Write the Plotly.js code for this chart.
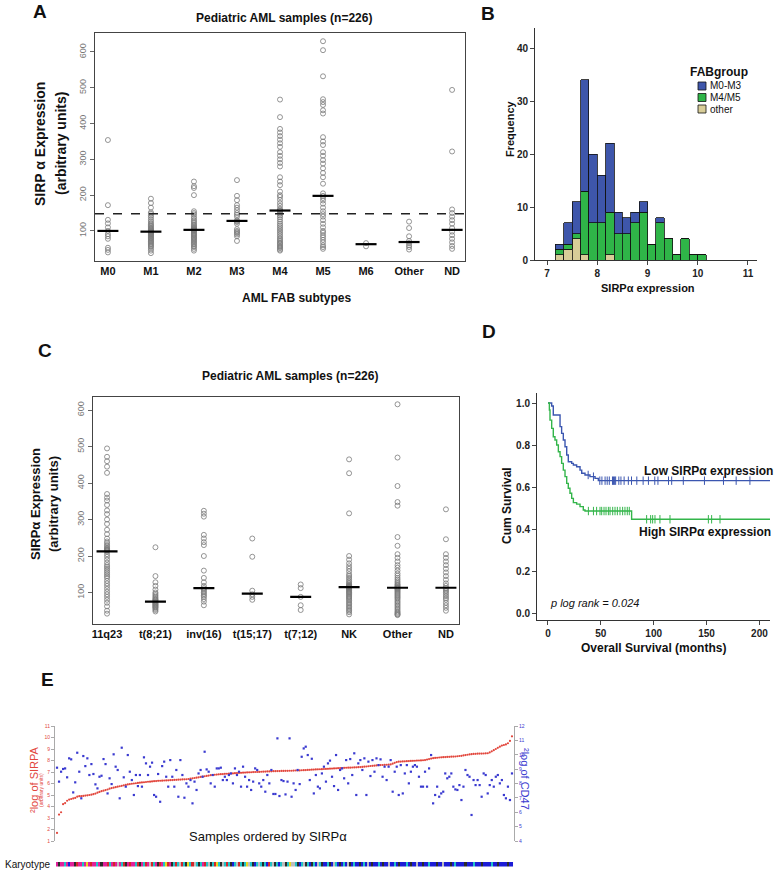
<!DOCTYPE html>
<html><head><meta charset="utf-8">
<script src="https://cdn.plot.ly/plotly-3.0.1.min.js"></script>
<style>body{margin:0;background:#fff}</style>
</head><body><div id="chart" style="width:776px;height:879px"></div>
<script>
// ---------- Panel A : SIRPα by FAB subtype ----------
const fabCategories = ['M0','M1','M2','M3','M4','M5','M6','Other','ND'];
const fabM0 = [354,172,131,121,110,100,91,85,78,53,47,40];
const fabM1 = [190,178,165,152,148,143,138,132,127,122,118,115,112,109,106,104,102,100,98,97,95,93,91,89,87,85,82,80,78,75,72,70,67,64,61,58,55,50,45,38];
const fabM2 = [238,225,220,200,155,150,146,140,135,130,126,122,118,115,112,110,108,106,104,103,102,100,98,95,92,90,88,85,82,80,77,74,71,68,65,62,58,55,50,45];
const fabM3 = [242,198,186,172,165,158,150,145,140,130,127,125,120,105,100,97,94,90,85,72];
const fabM4 = [467,418,385,375,365,355,345,335,320,310,300,290,280,250,238,228,210,200,195,187,178,170,162,158,156,152,148,143,138,132,126,120,115,110,105,100,95,90,85,80,76,72,68,65,62,58,55,52,48,45];
const fabM5 = [630,605,532,468,460,452,437,428,362,350,340,320,310,298,288,275,262,250,232,205,198,192,185,176,165,155,147,140,130,120,110,100,95,88,82,75,68,60,55,50];
const fabM6 = [66,57];
const fabOther = [126,108,85,72,66,60,55,48];
const fabND = [494,322,160,150,140,130,120,108,98,88,78,68,58,50];
const fabMedians = [100,98,103,128,157,198,63,69,103];
const fabThreshold = 148;

// ---------- Panel B : histogram of SIRPα expression ----------
const histBinCenters = [7.25,7.4167,7.5833,7.75,7.9167,8.0833,8.25,8.4167,8.5833,8.75,8.9167,9.0833,9.25,9.4167,9.5833,9.75,9.9167,10.0833];
const histOther = [1,2,4,1,0,0,1,0,0,0,0,0,0,0,0,0,0,0];
const histM4M5  = [1,1,1,12,7,7,8,5,5,7,9,3,7,4,1,4,1,1];
const histM0M3  = [1,4,6,21,13,9,13,4,3,2,2,0,1,0,0,0,0,0];
const histGroups = ['M0-M3','M4/M5','other'];
const histColors = ['#3e56ab','#2fb548','#d8cd98'];

// ---------- Panel C : SIRPα by karyotype ----------
const karCategories = ['11q23','t(8;21)','inv(16)','t(15;17)','t(7;12)','NK','Other','ND'];
const kar11q23 = [495,472,460,445,428,370,360,352,340,325,315,300,288,272,260,248,240,235,230,226,222,220,218,216,215,212,205,198,190,182,175,170,165,160,155,150,145,140,132,125,118,110,102,95,88,80,72,62,50,42];
const karT821 = [224,145,128,118,108,100,96,92,88,85,82,80,78,76,74,72,70,68,66,64,62,60,58,55,52,48];
const karInv16 = [324,316,308,258,248,238,230,200,160,140,128,118,112,108,104,100,96,92,88,82,75,65];
const karT1517 = [248,198,105,95,88,80];
const karT712 = [122,112,88,65,52];
const karNK = [465,427,317,200,190,180,172,165,158,150,145,140,135,130,126,122,120,118,117,116,115,115,114,112,110,108,105,102,100,97,94,91,88,85,82,78,74,70,66,62,58,54,50,46,40];
const karOther = [616,470,392,348,338,252,228,205,195,185,175,168,160,152,146,140,135,130,126,122,120,117,115,113,112,110,108,105,102,99,96,93,90,87,84,80,76,72,68,64,60,56,52,48,45,42,40,38];
const karND = [328,246,205,195,185,175,165,155,145,135,125,118,112,108,104,100,95,90,85,80,72,65,58,50];
const karMedians = [213,75,112,97,88,115,113,113];

// ---------- Panel D : Kaplan-Meier ----------
const lowTime = [0,3.5,5,11.4,12.9,14.5,16.1,17.7,19.2,22.4,24,27.1,30.3,31.9,35,39.7,44.5,47.6,210];
const lowSurv = [1.0,0.986,0.943,0.888,0.856,0.825,0.793,0.754,0.722,0.714,0.706,0.698,0.682,0.667,0.659,0.651,0.643,0.632,0.632];
const lowCensor = [38,43,49,51,54,56,58,61,62,63,64,67,69,72,76,79,84,90,95,101,104,114,117,128,148,166,178,191];
const highTime = [0,1.3,1.9,3.5,5.0,6.6,8.2,9.8,11.4,12.9,14.5,16.1,17.7,19.2,20.8,22.4,24.0,27.1,30.3,33.4,35.0,79.1,210];
const highSurv = [1.0,0.967,0.919,0.880,0.840,0.825,0.801,0.769,0.746,0.714,0.682,0.651,0.619,0.596,0.572,0.548,0.528,0.521,0.509,0.493,0.488,0.449,0.449];
const highCensor = [38.2,43,46,49.2,50.8,53,54.9,57.1,58.7,61.2,63.4,65.6,68.1,70.6,72.8,75,76.9,93.3,97.1,99,101.2,105.9,115.4,151.7,154.8,162.7];

// ---------- Panel E : SIRPA (sorted) and CD47 per sample ----------
const sirpaLog2 = [
1.7,3.3,3.5,4.2,4.3,4.5,4.6,4.65,4.7,4.75,
4.85,4.9,4.9,4.92,4.95,4.97,5.0,5.03,5.07,5.12,
5.2,5.27,5.33,5.38,5.43,5.48,5.55,5.6,5.64,5.68,
5.72,5.76,5.8,5.84,5.88,5.92,5.95,5.98,6.0,6.02,
6.05,6.07,6.09,6.11,6.13,6.15,6.16,6.18,6.2,6.21,
6.23,6.24,6.25,6.26,6.27,6.28,6.29,6.3,6.31,6.32,
6.33,6.34,6.35,6.36,6.37,6.39,6.42,6.45,6.48,6.51,
6.54,6.57,6.6,6.63,6.66,6.69,6.72,6.74,6.76,6.78,
6.8,6.81,6.82,6.84,6.85,6.86,6.87,6.88,6.9,6.91,
6.92,6.93,6.94,6.95,6.96,6.97,6.98,6.99,7.0,7.0,
7.01,7.02,7.03,7.04,7.05,7.05,7.06,7.07,7.07,7.08,
7.08,7.09,7.09,7.1,7.1,7.11,7.11,7.12,7.13,7.13,
7.14,7.15,7.16,7.17,7.18,7.19,7.2,7.21,7.22,7.23,
7.24,7.25,7.26,7.27,7.28,7.29,7.3,7.31,7.32,7.33,
7.34,7.35,7.36,7.37,7.38,7.38,7.39,7.4,7.41,7.42,
7.43,7.44,7.46,7.48,7.5,7.52,7.54,7.55,7.57,7.59,
7.6,7.61,7.62,7.63,7.64,7.66,7.72,7.8,7.86,7.9,
7.91,7.92,7.93,7.94,7.95,7.96,7.97,7.98,7.99,8.0,
8.01,8.02,8.04,8.08,8.12,8.17,8.2,8.22,8.24,8.26,
8.28,8.29,8.3,8.31,8.32,8.33,8.34,8.35,8.37,8.39,
8.41,8.44,8.47,8.5,8.53,8.55,8.57,8.58,8.59,8.6,
8.6,8.61,8.62,8.63,8.7,8.8,8.9,9.0,9.1,9.2,
9.3,9.35,9.4,9.5,9.7,10.1];
const cd47Log2 = [
9.10,8.13,8.82,9.01,9.05,8.43,9.75,9.68,7.38,8.08,
10.14,8.82,6.97,9.91,9.21,9.75,8.59,9.35,8.66,7.94,
7.66,8.47,8.54,9.70,9.35,7.31,8.36,7.96,10.03,9.17,
8.94,6.97,10.49,8.43,7.78,9.98,8.82,8.24,7.20,8.59,
7.82,8.59,7.78,9.82,9.40,8.59,9.17,9.45,7.20,7.08,
8.66,6.73,9.21,9.52,8.47,7.78,9.63,8.47,7.78,8.94,
7.08,9.63,8.59,7.01,8.01,7.78,8.24,6.62,8.13,7.55,
8.70,8.94,8.47,10.21,8.98,8.82,8.01,8.59,7.78,9.05,
9.05,9.10,8.24,8.47,8.24,8.59,8.70,8.01,9.05,8.59,
8.82,7.78,9.17,8.47,7.78,8.24,7.55,8.13,9.05,8.94,
8.01,7.78,8.24,7.43,8.59,8.01,8.94,7.27,7.27,11.14,
7.13,8.24,8.17,
7.24,8.13,11.14,7.08,8.01,7.55,8.94,7.96,9.86,10.44,
10.56,9.98,8.24,9.72,7.31,8.59,7.78,7.66,8.70,9.17,
8.13,9.40,9.59,8.47,7.82,9.98,7.55,8.94,9.05,8.36,
9.63,8.01,9.70,8.59,10.10,7.20,9.40,9.63,8.94,9.75,
7.20,9.52,8.52,9.63,8.82,9.75,9.28,9.68,8.47,9.17,
8.24,9.17,9.63,7.43,8.82,9.17,7.20,9.28,7.31,8.70,
9.28,8.01,8.82,9.17,9.28,9.17,8.47,7.78,7.78,8.82,
7.78,9.05,9.98,6.62,7.20,7.78,7.08,7.31,7.43,8.70,
8.36,8.47,8.70,7.78,7.59,7.55,7.89,6.85,7.78,8.94,
8.59,8.47,5.81,8.24,7.89,8.24,7.89,7.08,8.70,8.59,
7.31,7.89,8.24,7.78,8.47,8.59,8.01,8.24,7.20,6.97,
7.78,6.85,8.70];
// karyotype code per ordered sample (index into karCategories)
const karyotypeCodes = [
1,6,1,1,5,1,0,1,1,6,2,1,1,5,1,3,1,2,1,1,
5,1,6,1,1,2,5,1,2,1,7,1,5,2,6,1,2,1,1,5,
2,6,1,5,2,1,7,2,5,1,6,2,1,5,3,2,1,6,5,2,
5,7,2,5,6,3,5,2,7,5,6,5,1,2,5,7,6,5,2,3,
5,6,7,5,2,5,6,0,5,7,2,5,6,5,3,7,5,6,0,5,
7,5,6,5,0,2,5,7,6,5,0,5,7,6,5,3,7,7,5,6,
0,5,7,6,5,0,6,5,0,7,5,6,0,0,5,6,0,7,5,0,
6,0,5,0,7,6,0,5,0,0,6,0,5,0,7,0,6,0,0,5,
0,6,0,0,7,0,0,5,0,6,0,0,0,5,0,6,0,0,7,0,
0,6,0,0,5,0,0,0,6,0,0,7,0,0,0,6,0,5,0,0,
0,0,6,0,0,0,5,0,0,0,6,0,0,0,0,5,0,0,6,0,
0,0,0,6,0,0];
const karyotypeColors = ['#1c1cd6','#e0209a','#d4262a','#e8d81e','#2fb52f','#1ec4c8','#2b2b2b','#bdbdbd'];

// ---------- helpers ----------
const W = 776, H = 879;
const fx = p => p / W;
const fy = p => 1 - p / H;
const FONT = 'Arial, "Liberation Sans", sans-serif';

function stripTrace(groups, xa, ya) {
  const xs = [], ys = [];
  groups.forEach((g, k) => g.forEach(v => { xs.push(k + 1); ys.push(v); }));
  return {type:'scatter', mode:'markers', x:xs, y:ys, xaxis:xa, yaxis:ya, showlegend:false, hoverinfo:'y',
    marker:{symbol:'circle-open', size:5, color:'#7a7a7a', line:{width:0.8, color:'#7a7a7a'}}};
}
function medianTrace(meds, xa, ya) {
  return {type:'scatter', mode:'markers', x:meds.map((_, k) => k + 1), y:meds, xaxis:xa, yaxis:ya, showlegend:false,
    marker:{symbol:'line-ew', size:15, line:{width:2.2, color:'#000'}}};
}
function survAt(times, surv, t) {
  let s = surv[0];
  for (let i = 0; i < times.length; i++) { if (times[i] <= t) s = surv[i]; }
  return s;
}

const traces = [];
// A
traces.push(stripTrace([fabM0,fabM1,fabM2,fabM3,fabM4,fabM5,fabM6,fabOther,fabND], 'x', 'y'));
traces.push(medianTrace(fabMedians, 'x', 'y'));
// B (stack order bottom->top)
[[histOther, 2], [histM4M5, 1], [histM0M3, 0]].forEach(([vals, g]) => {
  traces.push({type:'bar', name:histGroups[g], x:histBinCenters, y:vals, width:1/6, xaxis:'x2', yaxis:'y2', showlegend:false,
    marker:{color:histColors[g], line:{color:'#111', width:0.8}}});
});
// C
traces.push(stripTrace([kar11q23,karT821,karInv16,karT1517,karT712,karNK,karOther,karND], 'x3', 'y3'));
traces.push(medianTrace(karMedians, 'x3', 'y3'));
// D
const blueKM = '#3b56b0', greenKM = '#33b54a';
traces.push({type:'scatter', mode:'lines', x:lowTime, y:lowSurv, line:{shape:'hv', color:blueKM, width:1.4}, xaxis:'x4', yaxis:'y4', showlegend:false, name:'Low SIRPα'});
traces.push({type:'scatter', mode:'lines', x:highTime, y:highSurv, line:{shape:'hv', color:greenKM, width:1.4}, xaxis:'x4', yaxis:'y4', showlegend:false, name:'High SIRPα'});
traces.push({type:'scatter', mode:'markers', x:lowCensor, y:lowCensor.map(t => survAt(lowTime, lowSurv, t)), xaxis:'x4', yaxis:'y4', showlegend:false,
  marker:{symbol:'line-ns', size:6, line:{width:1, color:blueKM}}});
traces.push({type:'scatter', mode:'markers', x:highCensor, y:highCensor.map(t => survAt(highTime, highSurv, t)), xaxis:'x4', yaxis:'y4', showlegend:false,
  marker:{symbol:'line-ns', size:6, line:{width:1, color:greenKM}}});
// E
const idx = sirpaLog2.map((_, i) => i);
traces.push({type:'scatter', mode:'markers', x:idx, y:sirpaLog2, xaxis:'x5', yaxis:'y5', showlegend:false,
  marker:{size:2.2, color:'#e2463c'}});
traces.push({type:'scatter', mode:'markers', x:idx, y:cd47Log2, xaxis:'x5', yaxis:'y6', showlegend:false,
  marker:{size:2.2, color:'#3a3ad0', symbol:'square'}});
const nk = karyotypeColors.length;
const karScale = [];
karyotypeColors.forEach((c, k) => { karScale.push([k / nk, c]); karScale.push([(k + 1) / nk, c]); });
traces.push({type:'heatmap', x:karyotypeCodes.map((_, i) => i), y:[0], z:[karyotypeCodes], xaxis:'x5', yaxis:'y7',
  colorscale:karScale, zmin:-0.5, zmax:nk - 0.5, showscale:false, hoverinfo:'skip'});

const boxAxis = {showline:true, mirror:true, linecolor:'#444', linewidth:1, showgrid:false, zeroline:false};
const layout = {
  width:W, height:H, margin:{l:0, r:0, t:0, b:0},
  paper_bgcolor:'#fff', plot_bgcolor:'rgba(0,0,0,0)',
  font:{family:FONT, color:'#222'},
  barmode:'stack', bargap:0,
  showlegend:false,
  // A
  xaxis:Object.assign({}, boxAxis, {domain:[fx(95), fx(465)], range:[0.7, 9.3], anchor:'y', ticks:'',
    tickvals:fabCategories.map((_, k) => k + 1), ticktext:fabCategories, tickfont:{size:11, weight:'bold', color:'#111'}}),
  yaxis:Object.assign({}, boxAxis, {domain:[fy(261), fy(33)], range:[16, 653], anchor:'x', ticks:'outside', ticklen:4, tickcolor:'#666',
    tickvals:[100,200,300,400,500,600], tickangle:-90, tickfont:{size:9, color:'#777'}}),
  // B
  xaxis2:{domain:[fx(535), fx(757)], range:[6.76, 11.18], anchor:'y2', showline:true, linecolor:'#333', ticks:'outside', ticklen:4,
    tickvals:[7,8,9,10,11], tickfont:{size:10, color:'#222', weight:'bold'}, showgrid:false, zeroline:false},
  yaxis2:{domain:[fy(260), fy(28)], range:[0, 43.8], anchor:'x2', showline:true, linecolor:'#333', ticks:'outside', ticklen:4,
    tickvals:[0,10,20,30,40], tickfont:{size:10, color:'#222', weight:'bold'}, showgrid:false, zeroline:false},
  // C
  xaxis3:Object.assign({}, boxAxis, {domain:[fx(93), fx(459)], range:[0.71, 8.27], anchor:'y3', ticks:'',
    tickvals:karCategories.map((_, k) => k + 1), ticktext:karCategories, tickfont:{size:11, weight:'bold', color:'#111'}}),
  yaxis3:Object.assign({}, boxAxis, {domain:[fy(623.5), fy(397)], range:[15, 636], anchor:'x3', ticks:'outside', ticklen:4, tickcolor:'#666',
    tickvals:[100,200,300,400,500,600], tickangle:-90, tickfont:{size:9, color:'#777'}}),
  // D
  xaxis4:{domain:[fx(537), fx(770)], range:[-10.4, 210], anchor:'y4', showline:true, linecolor:'#333', ticks:'outside', ticklen:4,
    tickvals:[0,50,100,150,200], tickfont:{size:10, color:'#222', weight:'bold'}, showgrid:false, zeroline:false},
  yaxis4:{domain:[fy(620.3), fy(392.5)], range:[-0.03, 1.05], anchor:'x4', showline:true, linecolor:'#333', ticks:'outside', ticklen:4,
    tickvals:[0,0.2,0.4,0.6,0.8,1.0], tickformat:'.1f', tickfont:{size:10, color:'#222', weight:'bold'}, showgrid:false, zeroline:false},
  // E
  xaxis5:{domain:[fx(55), fx(514)], range:[-1, 226], anchor:'y5', showline:false, showticklabels:false, ticks:'', showgrid:false, zeroline:false},
  yaxis5:{domain:[fy(841), fy(726)], range:[1, 11], anchor:'x5', side:'left', showline:true, linecolor:'#aaa', ticks:'outside', ticklen:3, tickcolor:'#aaa',
    tickvals:[1,2,3,4,5,6,7,8,9,10,11], tickfont:{size:5, color:'#e2463c'}, showgrid:false, zeroline:false},
  yaxis6:{overlaying:'y5', side:'right', range:[4, 12], anchor:'x5', showline:true, linecolor:'#aaa', ticks:'outside', ticklen:3, tickcolor:'#aaa',
    tickvals:[4,5,6,7,8,9,10,11,12], tickfont:{size:5, color:'#3a3ad0'}, showgrid:false, zeroline:false},
  yaxis7:{domain:[fy(866.5), fy(862)], range:[-0.5, 0.5], anchor:'x5', visible:false},
  shapes:[{type:'line', xref:'x domain', x0:0, x1:1, yref:'y', y0:fabThreshold, y1:fabThreshold, line:{color:'#222', width:1.3, dash:'dash'}}],
  annotations:[]
};

function ann(text, px, py, size, opts) {
  layout.annotations.push(Object.assign({text:text, x:fx(px), y:fy(py), xref:'paper', yref:'paper', showarrow:false,
    xanchor:'center', yanchor:'middle', font:{size:size, color:'#111', family:FONT, weight:'bold'}}, opts || {}));
}
// panel letters
ann('A', 40, 12, 19); ann('B', 488, 13, 19); ann('C', 45, 351, 19); ann('D', 489, 332, 19); ann('E', 47, 679, 19);
// panel titles
ann('Pediatric AML samples (n=226)', 284, 18, 12);
ann('Pediatric AML samples (n=226)', 290, 376, 12);
// A axis titles
ann('AML FAB subtypes', 296, 298, 12);
ann('SIRP α Expression', 40, 144, 14, {textangle:-90});
ann('(arbitrary units)', 61, 144, 14, {textangle:-90});
// B axis titles + legend (FABgroup)
ann('SIRPα expression', 648, 288, 11);
ann('Frequency', 510, 129, 11, {textangle:-90});
ann('FABgroup', 688, 72, 12, {xanchor:'left'});
histGroups.forEach((g, k) => {
  const cy = 86 + k * 11.5;
  layout.shapes.push({type:'rect', xref:'paper', yref:'paper', x0:fx(698), x1:fx(706), y0:fy(cy + 4), y1:fy(cy - 4),
    fillcolor:histColors[k], line:{color:'#111', width:0.8}});
  ann(g, 708, cy, 10, {xanchor:'left', font:{size:10, color:'#111', family:FONT}});
});
// C axis titles
ann('SIRPα Expression', 35, 504, 13, {textangle:-90});
ann('(arbitrary units)', 53, 504, 13, {textangle:-90});
// D
ann('Cum Survival', 507, 506, 12, {textangle:-90});
ann('Overall Survival (months)', 653, 648, 12);
ann('Low SIRPα expression', 708, 471, 12);
ann('High SIRPα expression', 705, 532, 12);
layout.annotations.push({text:'p log rank = 0.024', x:0, y:0.05, xref:'x4', yref:'y4', xanchor:'left', yanchor:'middle', showarrow:false,
  font:{size:11, style:'italic', color:'#111', family:FONT}});
// E
ann('²log of SIRPA', 34, 780, 11, {textangle:-90, font:{size:11, color:'#e2463c', family:FONT}});
ann('(arbitrary units)', 41, 790, 5, {textangle:-90, font:{size:5, color:'#e2463c', family:FONT}});
ann('²log of CD47', 525, 779, 11, {textangle:90, font:{size:11, color:'#3a3ad0', family:FONT}});
ann('Samples ordered by SIRPα', 268, 836, 13, {font:{size:13, color:'#111', family:FONT}});
ann('Karyotype', 3, 864, 10, {xanchor:'left', font:{size:10, color:'#111', family:FONT}});

Plotly.newPlot('chart', traces, layout, {staticPlot:true, displayModeBar:false});
</script></body></html>
